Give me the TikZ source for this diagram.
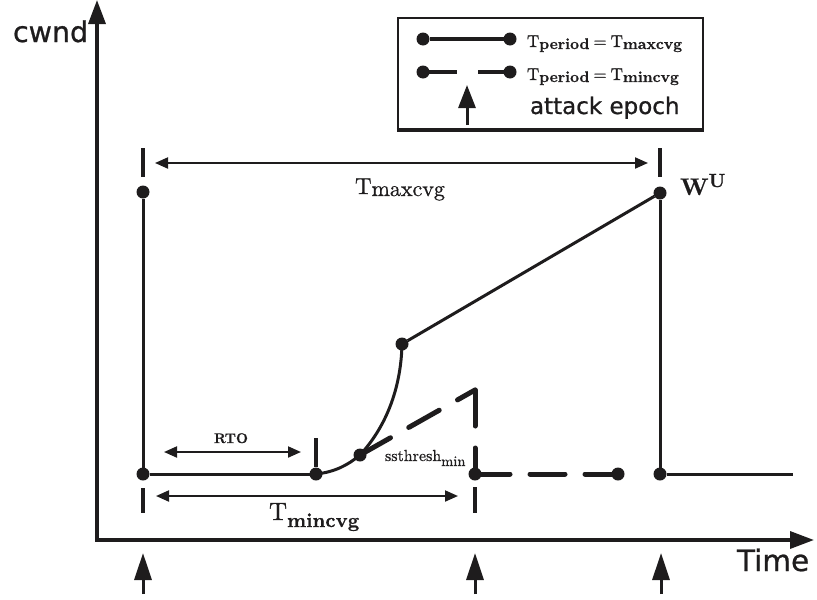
\documentclass[tikz,border=0pt]{standalone}
\usepackage{fontspec}
% the 10pt design of Latin Modern, scaled, at every size, with slightly heavier strokes
\setmainfont{lmroman10}[Extension=.otf,UprightFont=*-regular,BoldFont=*-bold,
  UprightFeatures={FakeBold=0.8},BoldFeatures={FakeBold=0.6}]
\setsansfont{DejaVu Sans}[FakeBold=0.8]
\usetikzlibrary{arrows.meta}

\definecolor{ink}{RGB}{30,28,29}
\newcommand{\fsz}[1]{\fontsize{#1pt}{#1pt}\selectfont}
% T followed by a lowered label: sizes of T and label, drop, label text
\newcommand{\Tlab}[4]{{\fsz{#1}T}\raisebox{-#3}{\fsz{#2}#4}}

\begin{document}
\begin{tikzpicture}[x=1pt,y=-1pt,
  every node/.style={inner sep=0pt,outer sep=0pt,text=ink},
  dot/.style={circle,fill=ink,draw=none,minimum size=13pt},
  axis/.style={draw=ink,line width=3.4pt,-{Triangle[length=24pt,width=17pt]}},
  trace/.style={draw=ink,line width=3pt},
  dashtrace/.style={draw=ink,line width=5pt,line cap=round,dash pattern=on 35pt off 21pt},
  tick/.style={draw=ink,line width=3.5pt},
  dim/.style={draw=ink,line width=2pt,{Triangle[length=13pt,width=11pt]}-{Triangle[length=13pt,width=11pt]}},
  attack/.style={draw=ink,line width=3pt,-{Triangle[length=27pt,width=17pt]}},
  sanslab/.style={font=\sffamily},
]
\useasboundingbox (0,0) rectangle (817,600);

% axes
\coordinate (O) at (97,541);
\coordinate (ytop) at (97,0);
\coordinate (xend) at (814,540);
\draw[axis] (O) -- (ytop);
\draw[axis] (95.3,540) -- (xend);
\node[sanslab,anchor=base west] (cwnd) at (13,42) {\fsz{28.5}cwnd};
\node[sanslab,anchor=base west] (time) at (737,571) {\fsz{29.5}Time};

% cwnd trace for a period of T_maxcvg
\node[dot] (A) at (143,192) {};
\node[dot] (B) at (143,474) {};
\node[dot] (C) at (316,474) {};
\node[dot] (S) at (360,455) {};
\node[dot] (D) at (402,344) {};
\node[dot] (E) at (660,193) {};
\node[dot] (F) at (660,474) {};
\coordinate (G) at (793,474);
\draw[trace] (A) -- (B) -- (C);
\draw[trace] (C.center) .. controls (335,472) and (348,465) .. (S.center)
  .. controls (385,428) and (401,390) .. (D.center);
\draw[trace] (D) -- (E);
\draw[trace] (E) -- (F) -- (G);

% cwnd trace for a period of T_mincvg
\coordinate (Q) at (475,390);
\node[dot] (M) at (475,474) {};
\node[dot] (N) at (618,474) {};
\draw[dashtrace] (S.center) -- (Q);
\draw[dashtrace,dash pattern=on 36pt off 22pt] (Q) -- (M.center);
\draw[dashtrace,dash pattern=on 35pt off 20pt] (M.center) -- (N.center);

% epoch markers
\draw[tick] (143,148) -- (143,177);
\draw[tick] (143,488) -- (143,513);
\draw[tick] (660,148) -- (660,177);
\draw[tick] (475,487) -- (475,513);
\draw[tick] (316,438) -- (316,467);

% spans
\coordinate (maxL) at (155,163);
\coordinate (maxR) at (648,163);
\draw[dim] (maxL) -- (maxR);
\node[anchor=base west] (tmax) at (355,194) {\Tlab{23}{22}{2pt}{maxcvg}};

\coordinate (rtoL) at (164,452);
\coordinate (rtoR) at (301,452);
\draw[dim] (rtoL) -- (rtoR);
\node[anchor=base] (rto) at (231,443) {\fsz{14}\bfseries RTO};

\coordinate (minL) at (156,496);
\coordinate (minR) at (458,496);
\draw[dim] (minL) -- (minR);
\node[anchor=base west] (tmin) at (269,520) {\Tlab{25}{20}{7pt}{\bfseries mincvg}};

\node[anchor=base west] (wu) at (680,195) {{\fsz{24}\bfseries W}\raisebox{8pt}{\fsz{19}\bfseries U}};
\node[anchor=base west,font=\fontsize{16pt}{18pt}\selectfont] (ss) at (385,461)
  {ssthresh\raisebox{-5pt}{\fontsize{14.5pt}{16pt}\selectfont min}};

% attack epochs
\foreach \n/\x in {a1/143,a2/475,a3/661}{
  \coordinate (\n b) at (\x,594);
  \coordinate (\n t) at (\x,553);
  \draw[attack] (\n b) -- (\n t);
}

% legend
\draw[draw=ink,line width=2.2pt] (398,130) -- (398,18) -- (703,18) -- (703,130);
\draw[draw=ink,line width=4pt] (396.9,130) -- (704.1,130);
\node[dot] (l1a) at (423,39) {};
\node[dot] (l1b) at (510,39) {};
\draw[trace,line width=3.4pt] (l1a) -- (l1b);
\node[anchor=base west] (l1t) at (527,47)
  {\Tlab{17}{15.5}{2pt}{\bfseries period}\hspace{4pt}{\fsz{17}=}\hspace{4pt}\Tlab{17}{15.5}{2pt}{\bfseries maxcvg}};
\node[dot] (l2a) at (423,72) {};
\node[dot] (l2b) at (510,72) {};
\draw[dashtrace,line width=4.5pt,line cap=butt,dash pattern=on 34pt off 21pt] (l2a.center) -- (l2b.center);
\node[anchor=base west] (l2t) at (527,80)
  {\Tlab{17}{15.5}{2pt}{\bfseries period}\hspace{4pt}{\fsz{17}=}\hspace{4pt}\Tlab{17}{15.5}{2pt}{\bfseries mincvg}};
\coordinate (l3b) at (467,125);
\coordinate (l3t) at (467,85);
\draw[attack,-{Triangle[length=23pt,width=17pt]}] (l3b) -- (l3t);
\node[sanslab,anchor=base west] (l3) at (530,114) {\fsz{23}attack epoch};
\end{tikzpicture}
\end{document}
